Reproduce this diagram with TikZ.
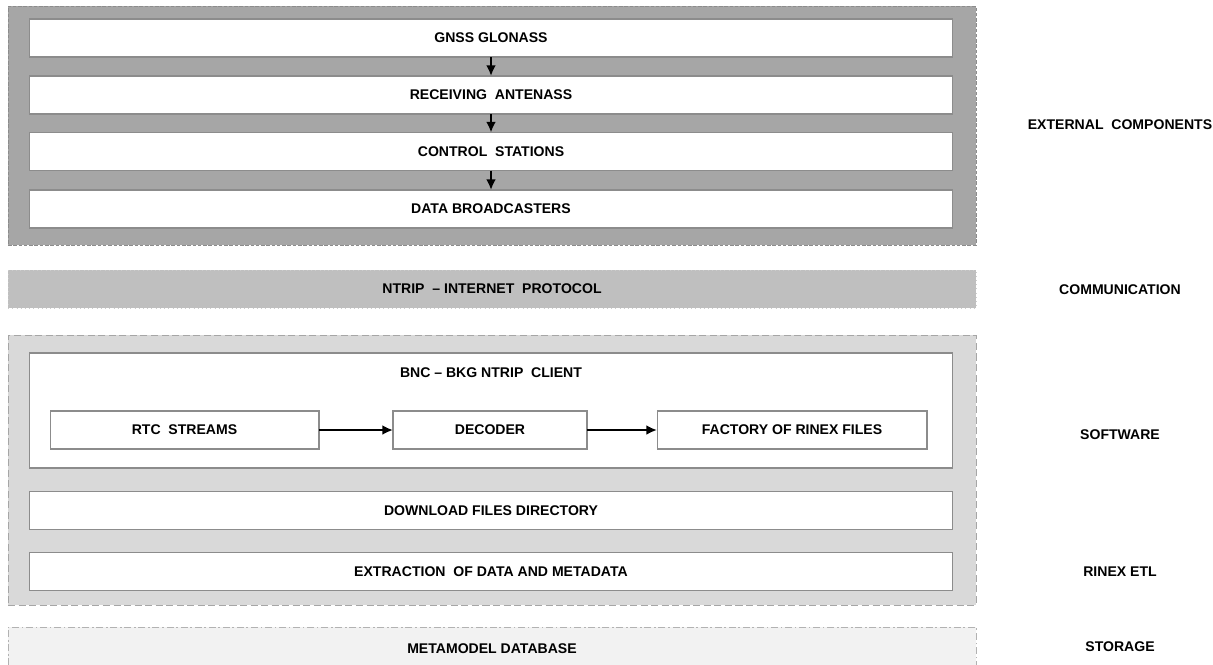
\documentclass[tikz,border=0pt]{standalone}
\usepackage{fontspec}
\setmainfont{Liberation Sans}
\usetikzlibrary{arrows.meta, positioning}
\definecolor{extgray}{HTML}{A6A6A6}
\definecolor{commgray}{HTML}{BFBFBF}
\definecolor{softgray}{HTML}{D9D9D9}
\definecolor{storegray}{HTML}{F2F2F2}
\definecolor{edgegray}{HTML}{8C8C8C}
\tikzset{
    layer/.style={draw=edgegray, line width=0.4pt, minimum width=19.36cm, inner sep=0pt, outer sep=0pt},
    block/.style={draw=edgegray, fill=white, line width=0.6pt, minimum height=0.76cm, inner sep=0pt, outer sep=0pt},
    wideblock/.style={block, minimum width=18.48cm},
    flow/.style={-{Latex[length=6pt,width=5.5pt]}, line width=1.6pt, black},
    sidelabel/.style={anchor=center},
    every node/.style={font=\fontsize{8}{9.6}\selectfont\bfseries}
}
\begin{document}
\begin{tikzpicture}[x=0.02cm, y=-0.02cm]
    \clip (0,0) rectangle (1213,664);
    \fill[white] (0,0) rectangle (1213,664);
    % external components
    \node[layer, fill=extgray, dashed, dash pattern=on 2pt off 1pt, minimum height=4.78cm] (ext) at (492,125.5) {};
    \node[wideblock] (gnss) at (491,38) {GNSS GLONASS};
    \node[wideblock] (antenna) at (491,95) {RECEIVING\ \ ANTENASS};
    \node[wideblock] (control) at (491,151.5) {CONTROL\ \ STATIONS};
    \node[wideblock] (broad) at (491,209) {DATA BROADCASTERS};
    \draw[flow] (gnss) -- (antenna);
    \draw[flow] (antenna) -- (control);
    \draw[flow] (control) -- (broad);
    % communication
    \node[layer, fill=commgray, draw=commgray!80, dotted, minimum height=0.76cm] (comm) at (492,289) {NTRIP\ \ -- INTERNET\ \ PROTOCOL};
    % software
    \node[layer, fill=softgray, draw=gray!70, dash pattern=on 4pt off 2pt, minimum height=5.4cm] (soft) at (492,470) {};
    \node[block, minimum width=18.48cm, minimum height=2.3cm] (bnc) at (491,410.5) {};
    \node (bnclabel) at (491,373) {BNC -- BKG NTRIP\ \ CLIENT};
    \node[block, minimum width=5.38cm] (rtc) at (184.5,430) {RTC\ \ STREAMS};
    \node[block, minimum width=3.88cm] (decoder) at (490,430) {DECODER};
    \node[block, minimum width=5.4cm] (factory) at (792,430) {FACTORY OF RINEX FILES};
    \draw[flow] (rtc) -- (decoder);
    \draw[flow] (decoder) -- (factory);
    \node[wideblock] (download) at (491,510.5) {DOWNLOAD FILES DIRECTORY};
    \node[wideblock] (extract) at (491,571.5) {EXTRACTION\ \ OF DATA AND METADATA};
    % storage
    \node[layer, fill=storegray, draw=gray!60, dash pattern=on 4pt off 1.5pt on 1pt off 1.5pt, minimum height=0.86cm] (store) at (492,648.5) {METAMODEL DATABASE};
    % side labels
    \node[sidelabel] (lext) at (1120,125) {EXTERNAL\ \ COMPONENTS};
    \node[sidelabel] (lcomm) at (1120,290) {COMMUNICATION};
    \node[sidelabel] (lsoft) at (1120,435) {SOFTWARE};
    \node[sidelabel] (letl) at (1120,572) {RINEX ETL};
    \node[sidelabel] (lstore) at (1120,647) {STORAGE};
\end{tikzpicture}
\end{document}
